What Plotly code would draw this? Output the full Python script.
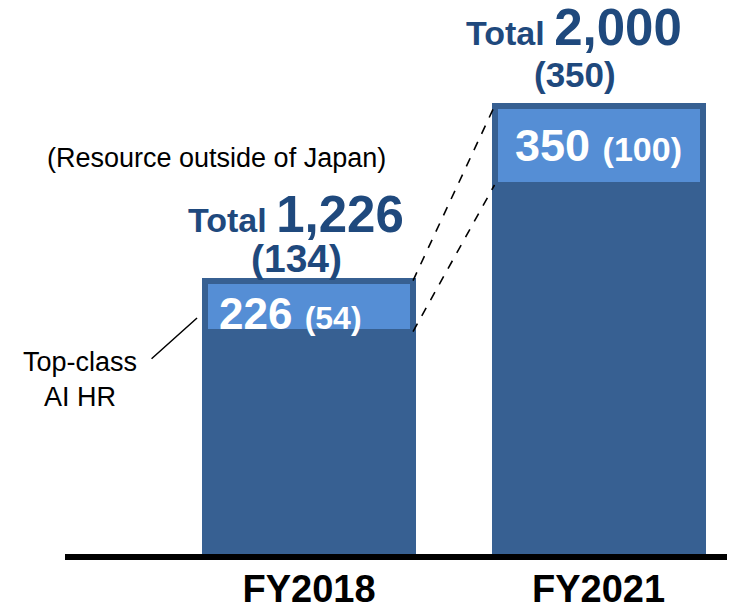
import plotly.graph_objects as go

# ---------------- data ----------------
categories = ["FY2018", "FY2021"]
other_hr = [1000, 1650]          # dark lower segment
top_ai_hr = [226, 350]           # top-class AI HR (light segment)
totals = [1226, 2000]
total_labels = ["1,226", "2,000"]
overseas_total = [134, 350]      # resource outside of Japan (total)
overseas_top = [54, 100]         # resource outside of Japan (top-class)

# ---------------- style ----------------
DARK = "#376092"
LIGHT = "#558ED5"
NAVY = "#1F497D"
FONT = "Liberation Sans, Arial, sans-serif"
BARGAP = 0.2815
half = (1 - BARGAP) / 2

fig = go.Figure()
fig.add_bar(x=categories, y=other_hr,
            marker=dict(color=DARK, line=dict(color=DARK, width=6)),
            hoverinfo="skip", showlegend=False)
fig.add_bar(x=categories, y=top_ai_hr,
            marker=dict(color=LIGHT, line=dict(color=DARK, width=6)),
            hoverinfo="skip", showlegend=False)

annotations = []
tot_xshift = [-13.5, -25]
tot_yshift = [66.5, 78.5]
par_yshift = [22, 32]
par_size = [39, 35]
for i in range(len(categories)):
    annotations.append(dict(
        x=i, y=totals[i], xref="x", yref="y", showarrow=False,
        text=f"<b>Total <span style='font-size:51px'>{total_labels[i]}</span></b>",
        font=dict(family=FONT, size=34, color=NAVY),
        xanchor="center", yanchor="middle",
        xshift=tot_xshift[i], yshift=tot_yshift[i]))
    annotations.append(dict(
        x=i, y=totals[i], xref="x", yref="y", showarrow=False,
        text=f"<b>({overseas_total[i]})</b>",
        font=dict(family=FONT, size=par_size[i], color=NAVY),
        xanchor="center", yanchor="middle",
        xshift=tot_xshift[i] + 1, yshift=par_yshift[i]))

# inner labels
annotations.append(dict(
    x=-half, y=other_hr[0] + top_ai_hr[0] / 2, xref="x", yref="y", showarrow=False,
    text=f"<b>{top_ai_hr[0]} <span style='font-size:32px'>({overseas_top[0]})</span></b>",
    font=dict(family=FONT, size=44, color="white"),
    xanchor="left", yanchor="middle", xshift=12, yshift=-7))
annotations.append(dict(
    x=1, y=other_hr[1] + top_ai_hr[1] / 2, xref="x", yref="y", showarrow=False,
    text=f"<b>{top_ai_hr[1]} <span style='font-size:34px'>({overseas_top[1]})</span></b>",
    font=dict(family=FONT, size=45, color="white"),
    xanchor="center", yanchor="middle", xshift=0, yshift=0))

# notes
annotations.append(dict(
    x=0.2254, y=0.7268, xref="paper", yref="paper", showarrow=False,
    text="(Resource outside of Japan)",
    font=dict(family=FONT, size=27, color="black"),
    xanchor="center", yanchor="middle"))
annotations.append(dict(
    x=0.0224, y=0.3242, xref="paper", yref="paper", showarrow=False,
    text="Top-class<br>AI HR",
    font=dict(family=FONT, size=27, color="black"),
    xanchor="center", yanchor="middle", align="center"))
# leader line
annotations.append(dict(
    x=-half, y=other_hr[0], xref="x", yref="y",
    text=" ", font=dict(size=1), showarrow=True, arrowhead=0,
    arrowwidth=1.5, arrowcolor="black", ax=-47, ay=42,
    xshift=-8, yshift=13.5, standoff=0, startstandoff=0))

shapes = [
    # dashed connectors
    dict(type="line", xref="x", yref="y",
         x0=0 + half, y0=totals[0], x1=1 - half, y1=totals[1],
         line=dict(color="black", width=1.6, dash="dash")),
    dict(type="line", xref="x", yref="y",
         x0=0 + half, y0=other_hr[0], x1=1 - half, y1=other_hr[1],
         line=dict(color="black", width=1.6, dash="dash")),
    # baseline (paper-referenced so it is not clipped)
    dict(type="line", xref="paper", yref="paper", x0=0, x1=1, y0=0, y1=0,
         line=dict(color="black", width=6), layer="above"),
]

# page body has an 8px margin: figure is sized to fit the 735x610 window
fig.update_layout(
    width=727, height=602,
    margin=dict(l=57, r=0, t=0, b=53),
    barmode="stack", bargap=BARGAP,
    paper_bgcolor="white", plot_bgcolor="white",
    font=dict(family=FONT),
    annotations=annotations, shapes=shapes,
    xaxis=dict(range=[-0.843, 1.4715], showgrid=False, zeroline=False,
               showline=False, ticks="", ticklabelstandoff=6,
               tickfont=dict(family=FONT, size=38, color="black", weight="bold")),
    yaxis=dict(range=[0, 2435], visible=False),
)

fig.write_html("out.html")
